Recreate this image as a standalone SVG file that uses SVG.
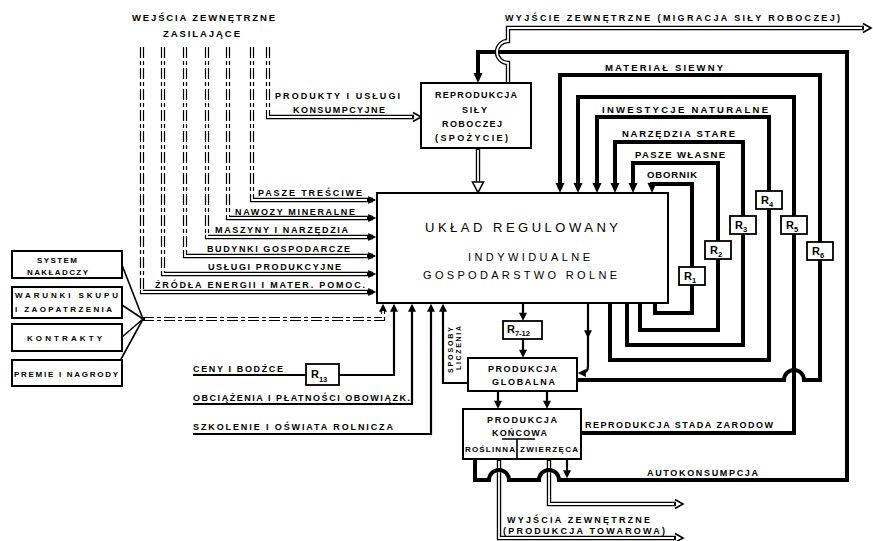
<svg xmlns="http://www.w3.org/2000/svg" width="873" height="541" viewBox="0 0 873 541">
<defs>
<style>
text{font-family:"Liberation Sans",Arial,sans-serif;font-weight:bold;fill:#000}
.s85{font-size:9px}
.s9{font-size:9.5px}
.s75{font-size:8px}
.s7{font-size:7px}
.tt{font-weight:normal;font-size:13px}
.t2{font-weight:normal;font-size:11px}
.box{fill:#fff;stroke:#000;stroke-width:2}
.rb{fill:#fff;stroke:#000;stroke-width:1.8}
.rt{font-size:11px}
.sub{font-size:7.5px}
.k{fill:none;stroke:#000;stroke-width:4}
.m{fill:none;stroke:#000;stroke-width:2.2}
.n{fill:none;stroke:#000;stroke-width:1.6}
.do{fill:none;stroke:#000;stroke-width:4.4}
.di{fill:none;stroke:#fff;stroke-width:1.8}
.dd{fill:none;stroke:#000;stroke-width:4.2;stroke-dasharray:11 3 4 3}
</style>
<marker id="ak" markerUnits="userSpaceOnUse" viewBox="0 0 10 10" refX="5" refY="5" markerWidth="10" markerHeight="10" orient="auto"><path d="M0,0.5 L10,5 L0,9.5 Z"/></marker>
<marker id="am" markerUnits="userSpaceOnUse" viewBox="0 0 10 10" refX="6" refY="5" markerWidth="9" markerHeight="8" orient="auto"><path d="M0,0 L10,5 L0,10 Z"/></marker>
<marker id="ao" markerUnits="userSpaceOnUse" viewBox="0 0 12 12" refX="3" refY="6" markerWidth="12" markerHeight="12" orient="auto"><path d="M2,1.5 L10,6 L2,10.5" fill="none" stroke="#000" stroke-width="1.6"/></marker>
</defs>
<rect width="873" height="541" fill="#fff"/>

<g id="connectors">
  <path class="dd" d="M268,47 V119"/>
  <path class="dd" d="M252,47 V202"/>
  <path class="dd" d="M228,47 V220"/>
  <path class="dd" d="M207,47 V239"/>
  <path class="dd" d="M185,47 V258"/>
  <path class="dd" d="M163,47 V276"/>
  <path class="dd" d="M142,47 V294"/>
  <path class="do" d="M266,117 H414" marker-end="url(#ao)"/>
  <path class="do" d="M250,200 H373" marker-end="url(#am)"/>
  <path class="do" d="M226,218 H373" marker-end="url(#am)"/>
  <path class="do" d="M205,237 H373" marker-end="url(#am)"/>
  <path class="do" d="M183,256 H373" marker-end="url(#am)"/>
  <path class="do" d="M161,274 H373" marker-end="url(#am)"/>
  <path class="do" d="M140,292 H373" marker-end="url(#am)"/>
  <path class="di" d="M268,47 V117 H412"/>
  <path class="di" d="M252,47 V200 H367"/>
  <path class="di" d="M228,47 V218 H367"/>
  <path class="di" d="M207,47 V237 H367"/>
  <path class="di" d="M185,47 V256 H367"/>
  <path class="di" d="M163,47 V274 H367"/>
  <path class="di" d="M142,47 V292 H367"/>

  <path class="n" d="M122,265 L143,319"/>
  <path class="n" d="M122,305 L143,319"/>
  <path class="n" d="M122,337 L143,319"/>
  <path class="n" d="M120,361 L143,319"/>
  <path class="dd" d="M143,319 H383 V307" marker-end="url(#am)"/>
  <path class="di" d="M145,319 H383 V311"/>

  <path class="m" d="M193,375 H306"/>
  <path class="m" d="M339,375 H394 V307" marker-end="url(#am)"/>
  <path class="m" d="M193,404 H412 V307" marker-end="url(#am)"/>
  <path class="m" d="M193,434 H431 V307" marker-end="url(#am)"/>
  <path class="m" d="M468,383 H443 V307" marker-end="url(#am)"/>

  <path class="m" d="M523,304 V317.5" marker-end="url(#am)"/>
  <path class="m" d="M523,339 V354.5" marker-end="url(#am)"/>
  <path class="m" d="M498,391 V405.5" marker-end="url(#am)"/>
  <path class="m" d="M547,391 V405.5" marker-end="url(#am)"/>
  <path class="m" d="M588,304 V335" marker-end="url(#am)"/>
  <path class="m" d="M588,333 V366 Q588,373 581,373" marker-end="url(#am)"/>

  <path class="do" d="M478,149 V183"/>
  <path class="di" d="M478,150 V184"/>
  <polygon points="472.5,182 483.5,182 478,192.5" fill="#fff" stroke="#000" stroke-width="1.6"/>

  <path class="do" d="M499,459 V538 H676" marker-end="url(#ao)"/>
  <path class="do" d="M549,459 V504 H676" marker-end="url(#ao)"/>
  <path class="di" d="M499,461 V538 H674"/>
  <path class="di" d="M549,461 V504 H674"/>

  <path class="k" d="M655,303 V313 H692 V184 H652 V188" marker-end="url(#ak)"/>
  <path class="k" d="M640,303 V330 H718 V163 H633 V188" marker-end="url(#ak)"/>
  <path class="k" d="M627,303 V345 H743 V142 H615 V188" marker-end="url(#ak)"/>
  <path class="k" d="M610,303 V360 H769 V117 H597 V188" marker-end="url(#ak)"/>
  <path class="k" d="M581,433 H794 V97 H578 V188" marker-end="url(#ak)"/>
  <path class="k" d="M577,380 H784 a10,10 0 0 1 20,0 H820 V75 H560 V188" marker-end="url(#ak)"/>
  <path class="k" d="M475,460 V480 H489 a10,10 0 0 1 20,0 H539 a10,10 0 0 1 20,0 H847 V52 H478 V78" marker-end="url(#ak)"/>
  <path class="m" d="M567,460 V475" marker-end="url(#am)"/>

  <path class="do" d="M508,83 V63 a11,11 0 0 1 0,-22 V28 H864" marker-end="url(#ao)"/>
  <path class="di" d="M508,85 V63 a11,11 0 0 1 0,-22 V28 H862"/>
</g>

<g id="labels">
  <text class="s9" x="132" y="21" textLength="143" lengthAdjust="spacing">WEJŚCIA ZEWNĘTRZNE</text>
  <text class="s9" x="163" y="37" textLength="77" lengthAdjust="spacing">ZASILAJĄCE</text>
  <text class="s85" x="275" y="99" textLength="125" lengthAdjust="spacing">PRODUKTY I USŁUGI</text>
  <text class="s85" x="293" y="113" textLength="92" lengthAdjust="spacing">KONSUMPCYJNE</text>
  <text class="s85" x="505" y="21" textLength="335" lengthAdjust="spacing">WYJŚCIE ZEWNĘTRZNE (MIGRACJA SIŁY ROBOCZEJ)</text>
  <text class="s9" x="605" y="71" textLength="118" lengthAdjust="spacing">MATERIAŁ SIEWNY</text>
  <text class="s9" x="602" y="113" textLength="166" lengthAdjust="spacing">INWESTYCJE NATURALNE</text>
  <text class="s9" x="622" y="137" textLength="113" lengthAdjust="spacing">NARZĘDZIA STARE</text>
  <text class="s9" x="635" y="158" textLength="90" lengthAdjust="spacing">PASZE WŁASNE</text>
  <text class="s9" x="647" y="178" textLength="50" lengthAdjust="spacing">OBORNIK</text>
  <text class="s85" x="258" y="196" textLength="104" lengthAdjust="spacing">PASZE TREŚCIWE</text>
  <text class="s85" x="235" y="215" textLength="120" lengthAdjust="spacing">NAWOZY MINERALNE</text>
  <text class="s85" x="215" y="233" textLength="133" lengthAdjust="spacing">MASZYNY I NARZĘDZIA</text>
  <text class="s85" x="207" y="252" textLength="143" lengthAdjust="spacing">BUDYNKI GOSPODARCZE</text>
  <text class="s85" x="208" y="270" textLength="133" lengthAdjust="spacing">USŁUGI PRODUKCYJNE</text>
  <text class="s85" x="155" y="288" textLength="210" lengthAdjust="spacing">ŹRÓDŁA ENERGII I MATER. POMOC.</text>
  <text class="s85" x="193" y="372" textLength="90" lengthAdjust="spacing">CENY I BODŹCE</text>
  <text class="s85" x="193" y="401" textLength="217" lengthAdjust="spacing">OBCIĄŻENIA I PŁATNOŚCI OBOWIĄZK.</text>
  <text class="s85" x="193" y="430" textLength="200" lengthAdjust="spacing">SZKOLENIE I OŚWIATA ROLNICZA</text>
  <text class="s7" transform="translate(453,373) rotate(-90)" textLength="46" lengthAdjust="spacing">SPOSOBY</text>
  <text class="s7" transform="translate(461,370) rotate(-90)" textLength="44" lengthAdjust="spacing">LICZENIA</text>
  <text class="s85" x="585" y="428" textLength="188" lengthAdjust="spacing">REPRODUKCJA STADA ZARODOW</text>
  <text class="s85" x="647" y="476" textLength="111" lengthAdjust="spacing">AUTOKONSUMPCJA</text>
  <text class="s85" x="507" y="523" textLength="143" lengthAdjust="spacing">WYJŚCIA ZEWNĘTRZNE</text>
  <text class="s85" x="503" y="534" textLength="162" lengthAdjust="spacing">(PRODUKCJA TOWAROWA)</text>
</g>

<g id="main">
  <rect class="box" x="377" y="193" width="291" height="110"/>
  <text class="tt" x="425" y="232" textLength="193" lengthAdjust="spacing">UKŁAD REGULOWANY</text>
  <text class="t2" x="468" y="261" textLength="122" lengthAdjust="spacing">INDYWIDUALNE</text>
  <text class="t2" x="423" y="279" textLength="194" lengthAdjust="spacing">GOSPODARSTWO ROLNE</text>
</g>

<g id="repro">
  <rect class="box" x="421" y="83" width="110" height="65"/>
  <text class="s85" x="435" y="98" textLength="82" lengthAdjust="spacing">REPRODUKCJA</text>
  <text class="s85" x="462" y="113" textLength="25" lengthAdjust="spacing">SIŁY</text>
  <text class="s85" x="442" y="127" textLength="60" lengthAdjust="spacing">ROBOCZEJ</text>
  <text class="s85" x="435" y="141" textLength="73" lengthAdjust="spacing">(SPOŻYCIE)</text>
</g>

<g id="global">
  <rect class="box" x="468" y="358" width="109" height="33"/>
  <text class="s85" x="488" y="372" textLength="69" lengthAdjust="spacing">PRODUKCJA</text>
  <text class="s85" x="492" y="385" textLength="63" lengthAdjust="spacing">GLOBALNA</text>
</g>

<g id="koncowa">
  <rect class="box" x="463" y="409" width="118" height="50"/>
  <text class="s85" x="487" y="423" textLength="70" lengthAdjust="spacing">PRODUKCJA</text>
  <text class="s85" x="492" y="436" textLength="55" lengthAdjust="spacing">KOŃCOWA</text>
  <path class="n" d="M502,439 H535 M517,439 V459"/>
  <text class="s75" x="465" y="452" textLength="50" lengthAdjust="spacing">ROŚLINNA</text>
  <text class="s75" x="520" y="452" textLength="58" lengthAdjust="spacing">ZWIERZĘCA</text>
</g>

<g id="system">
  <rect class="box" x="12" y="251" width="110" height="27"/>
  <text class="s75" x="37" y="263" textLength="40" lengthAdjust="spacing">SYSTEM</text>
  <text class="s75" x="27" y="275" textLength="61" lengthAdjust="spacing">NAKŁADCZY</text>
</g>
<g id="warunki">
  <rect class="box" x="12" y="287" width="110" height="31"/>
  <text class="s75" x="15" y="298" textLength="103" lengthAdjust="spacing">WARUNKI SKUPU</text>
  <text class="s75" x="15" y="312" textLength="97" lengthAdjust="spacing">I ZAOPATRZENIA</text>
</g>
<g id="kontrakty">
  <rect class="box" x="12" y="324" width="110" height="27"/>
  <text class="s75" x="27" y="341" textLength="75" lengthAdjust="spacing">KONTRAKTY</text>
</g>
<g id="premie">
  <rect class="box" x="12" y="360" width="110" height="26"/>
  <text class="s75" x="14" y="377" textLength="104" lengthAdjust="spacing">PREMIE I NAGRODY</text>
</g>

<g id="r1"><rect class="rb" x="679" y="267" width="26" height="18"/><text class="rt" x="684" y="280">R<tspan class="sub" dy="3">1</tspan></text></g>
<g id="r2"><rect class="rb" x="705" y="241" width="26" height="18"/><text class="rt" x="710" y="254">R<tspan class="sub" dy="3">2</tspan></text></g>
<g id="r3"><rect class="rb" x="730" y="216" width="26" height="18"/><text class="rt" x="735" y="229">R<tspan class="sub" dy="3">3</tspan></text></g>
<g id="r4"><rect class="rb" x="756" y="191" width="26" height="18"/><text class="rt" x="761" y="204">R<tspan class="sub" dy="3">4</tspan></text></g>
<g id="r5"><rect class="rb" x="781" y="216" width="26" height="18"/><text class="rt" x="786" y="229">R<tspan class="sub" dy="3">5</tspan></text></g>
<g id="r6"><rect class="rb" x="807" y="242" width="26" height="18"/><text class="rt" x="812" y="255">R<tspan class="sub" dy="3">6</tspan></text></g>
<g id="r13"><rect class="rb" x="306" y="364" width="33" height="21"/><text class="rt" x="311" y="378">R<tspan class="sub" dy="4">13</tspan></text></g>
<g id="r712"><rect class="rb" x="503" y="321" width="39" height="18"/><text class="rt" x="507" y="333">R<tspan class="sub" dy="3">7-12</tspan></text></g>
</svg>
